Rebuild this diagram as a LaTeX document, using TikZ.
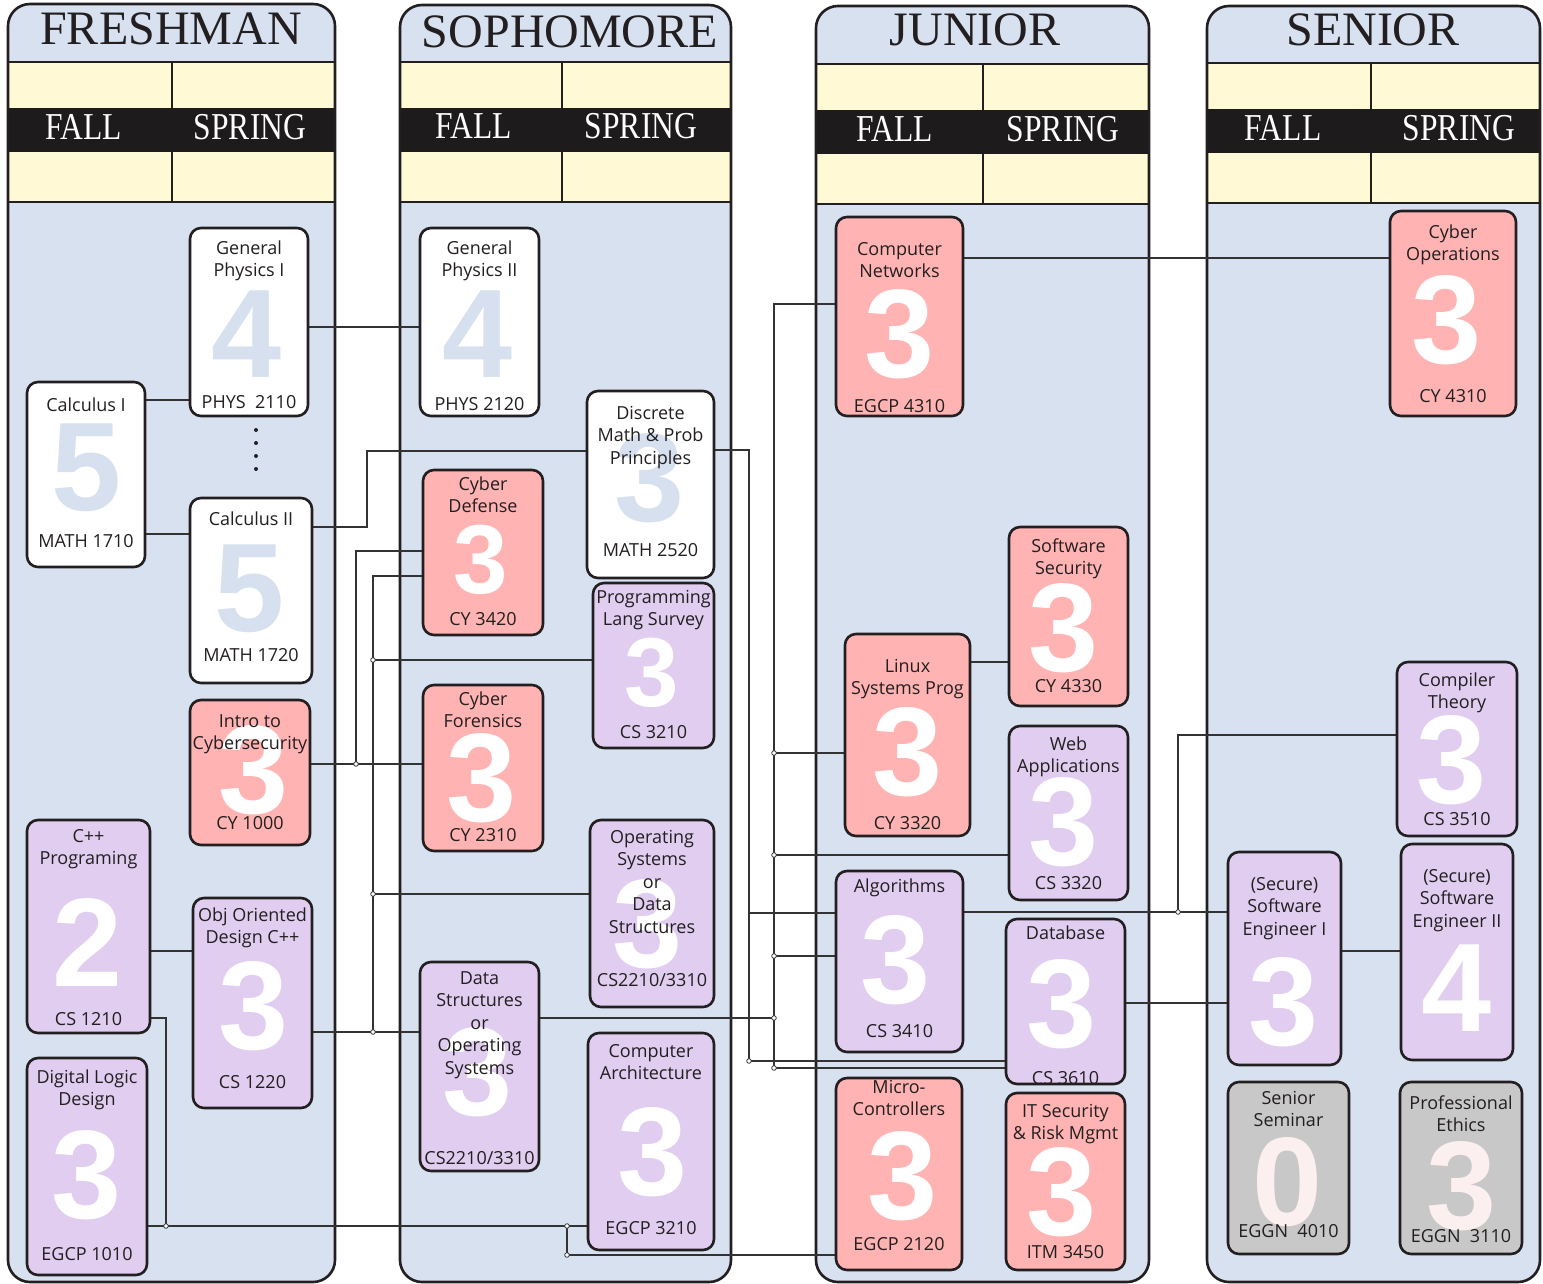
\documentclass[tikz,border=0pt]{standalone}
\usepackage{fontspec}
\setmainfont{Liberation Serif}
\newfontfamily\headfont{Liberation Serif}
\newfontfamily\semfont[FakeStretch=0.83]{Liberation Serif}
\newfontfamily\crsfont{Open Sans}
\newfontfamily\digfont{Liberation Sans}
\usetikzlibrary{fit}

\definecolor{ink}{HTML}{231F20}
\definecolor{panelblue}{HTML}{D7E1F0}
\definecolor{yellowc}{HTML}{FFF9D5}
\definecolor{bandc}{HTML}{1D1B1B}
\definecolor{pinkc}{HTML}{FFB3B3}
\definecolor{purplec}{HTML}{E0CDF0}
\definecolor{grayc}{HTML}{C8C8C8}
\definecolor{digblue}{HTML}{D6E0EF}
\definecolor{digpink}{HTML}{FCEFEF}
\definecolor{linec}{HTML}{333333}

\pgfdeclarelayer{bg}
\pgfdeclarelayer{lines}
\pgfsetlayers{bg,lines,main}

\tikzset{
  every node/.style={text=ink},
  yeartitle/.style={anchor=base, inner sep=0pt, font=\headfont\fontsize{48}{48}\selectfont},
  semlabel/.style={anchor=base, inner sep=0pt, text=white, font=\semfont\fontsize{38}{38}\selectfont},
  crs/.style={rectangle, draw=ink, line width=2.6pt, rounded corners=11pt, inner sep=0pt},
  pinkbox/.style={crs, fill=pinkc},
  purplebox/.style={crs, fill=purplec},
  whitebox/.style={crs, fill=white},
  graybox/.style={crs, fill=grayc},
  ctitle/.style={anchor=north, yshift=15.75pt, align=center, inner sep=0pt, font=\crsfont\fontsize{18}{22.5}\selectfont},
  ccode/.style={anchor=base, inner sep=0pt, font=\crsfont\fontsize{18}{22.5}\selectfont},
  dW/.style={inner sep=0pt, text=white, font=\digfont\bfseries\fontsize{126}{126}\selectfont},
  dWs/.style={dW, font=\digfont\bfseries\fontsize{98}{98}\selectfont},
  dB/.style={dW, text=digblue},
  dP/.style={dW, text=digpink},
  conn/.style={draw=linec, line width=1.2pt},
  jdot/.style={draw=linec, fill=white, line width=0.8pt},
  dotline/.style={draw=ink, line width=4pt, line cap=round, dash pattern=on 0pt off 13pt},
}

% year panel: x1, x2, xdiv, ytop, y of yellow band
\newcommand\yearpanel[5]{%
  \fill[panelblue, rounded corners=22pt] (#1,#4) rectangle (#2,1282);
  \fill[yellowc] (#1,#5) rectangle (#2,#5+140);
  \fill[bandc] (#1,#5+46) rectangle (#2,#5+90);
  \draw[ink, line width=2.6pt] (#1,#5) -- (#2,#5) (#1,#5+140) -- (#2,#5+140)
     (#3,#5) -- (#3,#5+46) (#3,#5+90) -- (#3,#5+140);
  \draw[ink, line width=2.6pt, rounded corners=22pt] (#1,#4) rectangle (#2,1282);
}
% course box: name, corner, corner, style
\newcommand\course[4]{\node[#4, fit={(#2) (#3)}] (#1) {};}
% course text: name, title baseline y, title, digit pos, digit style, digit, code baseline y, code
\newcommand\ctext[8]{%
  \node[#5] (#1-d) at (#4) {#6};
  \node[ctitle] (#1-t) at (#1.center |- 0,#2) {\strut #3};
  \if\relax\detokenize{#8}\relax\else
  \node[ccode] (#1-c) at (#1.center |- 0,#7) {#8};\fi
}

\begin{document}
\begin{tikzpicture}[x=1pt, y=-1pt]
\useasboundingbox (0,0) rectangle (1543,1284);

% ---------- panels ----------
\begin{pgfonlayer}{bg}
\fill[white] (0,0) rectangle (1543,1284);
\yearpanel{8}{335}{172}{4}{62}
\yearpanel{400}{731}{562}{5}{62}
\yearpanel{816}{1149}{983}{6}{64}
\yearpanel{1207}{1540}{1371}{6}{63}
\end{pgfonlayer}

\node[yeartitle] (yfr) at (171,45) {FRESHMAN};
\node[yeartitle] (yso) at (570,48) {SOPHOMORE};
\node[yeartitle] (yju) at (975,46) {JUNIOR};
\node[yeartitle] (yse) at (1373,46) {SENIOR};

\node[semlabel] (s1) at (84,140) {FALL};
\node[semlabel] (s2) at (250,140) {SPRING};
\node[semlabel] (s3) at (474,139) {FALL};
\node[semlabel] (s4) at (641,139) {SPRING};
\node[semlabel] (s5) at (895,142) {FALL};
\node[semlabel] (s6) at (1063,142) {SPRING};
\node[semlabel] (s7) at (1283,141) {FALL};
\node[semlabel] (s8) at (1459,141) {SPRING};

% ---------- course boxes ----------
\course{phys1}{190,228}{308,416}{whitebox}
\course{calc1}{27,382}{145,567}{whitebox}
\course{calc2}{190,498}{312,683}{whitebox}
\course{cy1000}{190,700}{310,845}{pinkbox}
\course{cs1210}{27,820}{150,1033}{purplebox}
\course{cs1220}{193,898}{312,1108}{purplebox}
\course{egcp1010}{27,1058}{147,1275}{purplebox}
\course{phys2}{420,228}{539,416}{whitebox}
\course{math2520}{587,391}{714,578}{whitebox}
\course{cy3420}{423,470}{543,635}{pinkbox}
\course{cs3210}{593,583}{714,748}{purplebox}
\course{cy2310}{423,685}{543,851}{pinkbox}
\course{os}{590,820}{714,1007}{purplebox}
\course{ds}{420,962}{539,1171}{purplebox}
\course{egcp3210}{588,1033}{714,1250}{purplebox}
\course{egcp4310}{836,217}{963,416}{pinkbox}
\course{cy4330}{1009,527}{1128,706}{pinkbox}
\course{cy3320}{845,634}{970,836}{pinkbox}
\course{cs3320}{1009,726}{1128,900}{purplebox}
\course{cs3410}{836,871}{963,1052}{purplebox}
\course{cs3610}{1006,919}{1125,1084}{purplebox}
\course{egcp2120}{836,1078}{962,1270}{pinkbox}
\course{itm3450}{1006,1093}{1125,1270}{pinkbox}
\course{cy4310}{1390,211}{1516,416}{pinkbox}
\course{cs3510}{1397,662}{1517,836}{purplebox}
\course{se1}{1228,852}{1341,1065}{purplebox}
\course{se2}{1401,844}{1513,1060}{purplebox}
\course{eggn4010}{1228,1082}{1349,1254}{graybox}
\course{eggn3110}{1400,1082}{1522,1254}{graybox}

% ---------- course texts ----------
\ctext{phys1}{254}{General\\Physics I}{247,334}{dB}{4}{408}{PHYS~~2110}
\ctext{calc1}{411}{Calculus I}{87,468}{dB}{5}{547}{MATH 1710}
\ctext{calc2}{525}{Calculus II}{250,589}{dB}{5}{661}{MATH 1720}
\ctext{cy1000}{727}{Intro to\\Cybersecurity}{254,770}{dW}{3}{829}{CY 1000}
\ctext{cs1210}{842}{C++\\Programing}{88,943}{dW}{2}{1025}{CS 1210}
\ctext{cs1220}{921}{Obj Oriented\\Design C++}{254,1006}{dW}{3}{1088}{CS 1220}
\ctext{egcp1010}{1083}{Digital Logic\\Design}{87,1175}{dW}{3}{1260}{EGCP 1010}
\ctext{phys2}{254}{General\\Physics II}{478,334}{dB}{4}{410}{PHYS 2120}
\ctext{math2520}{419}{Discrete\\Math \& Prob\\Principles}{650,478}{dB}{3}{556}{MATH 2520}
\ctext{cy3420}{490}{Cyber\\Defense}{481,560}{dWs}{3}{625}{CY 3420}
\ctext{cs3210}{603}{Programming\\Lang Survey}{652,673}{dWs}{3}{738}{CS 3210}
\ctext{cy2310}{705}{Cyber\\Forensics}{482,778}{dW}{3}{841}{CY 2310}
\ctext{os}{843}{Operating\\Systems\\or\\Data\\Structures}{648,924}{dW}{3}{986}{CS2210/3310}
\ctext{ds}{984}{Data\\Structures\\or\\Operating\\Systems}{478,1072}{dW}{3}{1164}{CS2210/3310}
\ctext{egcp3210}{1057}{Computer\\Architecture}{653,1152}{dW}{3}{1234}{EGCP 3210}
\ctext{egcp4310}{255}{Computer\\Networks}{900,334}{dW}{3}{412}{EGCP 4310}
\ctext{cy4330}{552}{Software\\Security}{1064,628}{dW}{3}{692}{CY 4330}
\ctext{cy3320}{672}{Linux\\Systems Prog}{908,752}{dW}{3}{829}{CY 3320}
\ctext{cs3320}{750}{Web\\Applications}{1064,822}{dW}{3}{889}{CS 3320}
\ctext{cs3410}{892}{Algorithms}{896,960}{dW}{3}{1037}{CS 3410}
\ctext{cs3610}{939}{Database}{1062,1004}{dW}{3}{1084}{CS 3610}
\ctext{egcp2120}{1093}{Micro-\\Controllers}{903,1176}{dW}{3}{1250}{EGCP 2120}
\ctext{itm3450}{1117}{IT Security\\\& Risk Mgmt}{1062,1192}{dW}{3}{1258}{ITM 3450}
\ctext{cy4310}{238}{Cyber\\Operations}{1447,320}{dW}{3}{402}{CY 4310}
\ctext{cs3510}{686}{Compiler\\Theory}{1452,760}{dW}{3}{825}{CS 3510}
\ctext{se1}{890}{(Secure)\\Software\\Engineer I}{1284,1002}{dW}{3}{0}{}
\ctext{se2}{882}{(Secure)\\Software\\Engineer II}{1457,988}{dW}{4}{0}{}
\ctext{eggn4010}{1104}{Senior\\Seminar}{1288,1182}{dP}{0}{1237}{EGGN~~4010}
\ctext{eggn3110}{1109}{Professional\\Ethics}{1462,1186}{dP}{3}{1242}{EGGN~~3110}

% ---------- connectors (on the layer under the boxes) ----------
\coordinate (pa) at (360,327);
\coordinate (pb) at (168,400);
\coordinate (pc) at (168,534);
\coordinate (d1) at (367,527); \coordinate (d2) at (367,451);
\coordinate (e1) at (356,764); \coordinate (e2) at (356,551);
\coordinate (f1) at (373,1032); \coordinate (f2) at (373,576);
\coordinate (f3) at (373,660); \coordinate (f4) at (373,894);
\coordinate (g1) at (166,1018); \coordinate (g2) at (166,1226);
\coordinate (g3) at (567,1226); \coordinate (g4) at (567,1255);
\coordinate (h) at (170,951);
\coordinate (i1) at (749,450); \coordinate (i2) at (749,1061); \coordinate (i3) at (749,913);
\coordinate (k1) at (774,304); \coordinate (k2) at (774,1068);
\coordinate (k3) at (774,753); \coordinate (k4) at (774,855);
\coordinate (k5) at (774,956); \coordinate (k6) at (774,1018);
\coordinate (l1) at (1178,912); \coordinate (l2) at (1178,735);
\coordinate (m) at (1180,1003);
\coordinate (n) at (1370,951);
\coordinate (o) at (990,662);
\coordinate (q) at (1200,258);
\coordinate (p1) at (256,430); \coordinate (p2) at (256,482);

\begin{pgfonlayer}{lines}
\draw[conn] (phys1.east |- pa) -- (phys2.west |- pa);
\draw[conn] (calc1.east |- pb) -- (phys1.west |- pb);
\draw[conn] (calc1.east |- pc) -- (calc2.west |- pc);
\draw[conn] (calc2.east |- d1) -- (d1) -- (d2) -- (math2520.west |- d2);
\draw[conn] (cy1000.east |- e1) -- (cy2310.west |- e1);
\draw[conn] (e1) -- (e2) -- (cy3420.west |- e2);
\draw[conn] (cs1220.east |- f1) -- (ds.west |- f1);
\draw[conn] (f1) -- (f2) -- (cy3420.west |- f2);
\draw[conn] (f3) -- (cs3210.west |- f3);
\draw[conn] (f4) -- (os.west |- f4);
\draw[conn] (cs1210.east |- g1) -- (g1) -- (g2);
\draw[conn] (egcp1010.east |- g2) -- (egcp3210.west |- g2);
\draw[conn, line width=1.8pt] (g3) -- (g4) -- (egcp2120.west |- g4);
\draw[conn] (cs1210.east |- h) -- (cs1220.west |- h);
\draw[conn] (math2520.east |- i1) -- (i1) -- (i2) -- (cs3610.west |- i2);
\draw[conn] (i3) -- (cs3410.west |- i3);
\draw[conn] (egcp4310.west |- k1) -- (k1) -- (k2) -- (cs3610.west |- k2);
\draw[conn] (k3) -- (cy3320.west |- k3);
\draw[conn] (k4) -- (cs3320.west |- k4);
\draw[conn] (k5) -- (cs3410.west |- k5);
\draw[conn] (ds.east |- k6) -- (k6);
\draw[conn] (cs3410.east |- l1) -- (se1.west |- l1);
\draw[conn] (l1) -- (l2) -- (cs3510.west |- l2);
\draw[conn] (cs3610.east |- m) -- (se1.west |- m);
\draw[conn] (se1.east |- n) -- (se2.west |- n);
\draw[conn] (cy3320.east |- o) -- (cy4330.west |- o);
\draw[conn] (egcp4310.east |- q) -- (cy4310.west |- q);
\draw[dotline] (p1) -- (p2);
\foreach \j in {e1,f1,f3,f4,g2,g3,g4,i2,k2,k3,k4,k5,k6,l1}
  \draw[jdot] (\j) circle[radius=2.3pt];
\end{pgfonlayer}

\end{tikzpicture}
\end{document}
